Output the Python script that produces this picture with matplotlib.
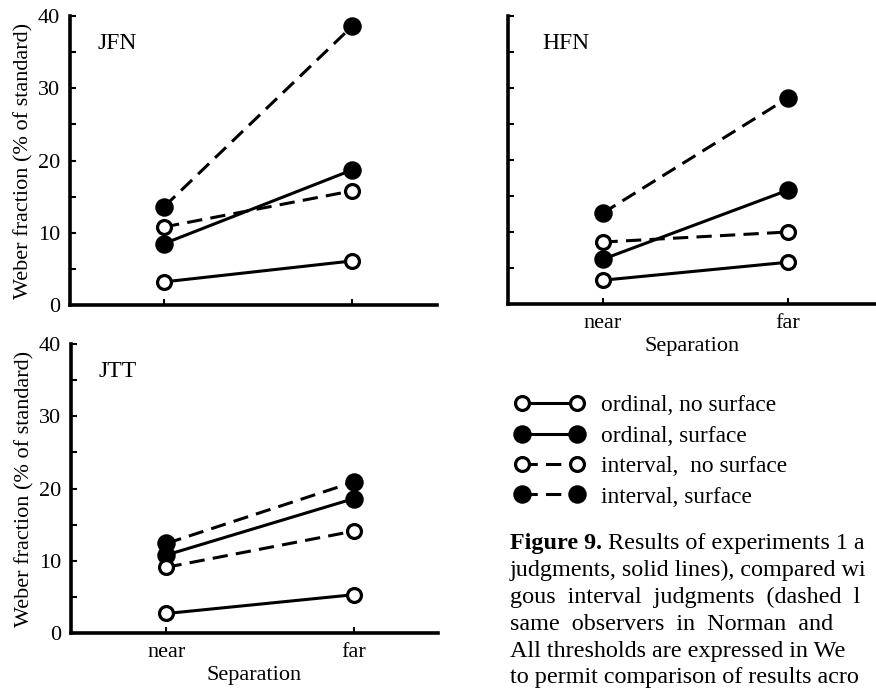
import matplotlib
matplotlib.use("Agg")
import matplotlib.pyplot as plt
from matplotlib.lines import Line2D

plt.rcParams['font.family'] = ['Liberation Serif', 'DejaVu Serif']

separation = ["near", "far"]
series_names = ["ordinal, no surface", "ordinal, surface",
                "interval,  no surface", "interval, surface"]

# values per observer, order matches series_names
jfn = [[3.2, 6.1], [8.5, 18.7], [10.8, 15.8], [13.6, 38.6]]
hfn = [[3.3, 5.8], [6.2, 15.8], [8.6, 10.0], [12.6, 28.6]]
jtt = [[2.7, 5.3], [10.8, 18.6], [9.1, 14.1], [12.4, 20.9]]

DASH = (0, (5, 2.7))
LW = 2.2
styles = [("-", "white"), ("-", "black"), (DASH, "white"), (DASH, "black")]
FS = 16


def panel(ax, data, name, xlim, ylabels=True, xlabels=True):
    x = list(range(len(separation)))
    for vals, (ls, fc) in zip(data, styles):
        ms = 11 if fc == "black" else 10
        ax.plot(x, vals, ls=ls, color="black", lw=LW, marker="o", ms=ms,
                mfc=fc, mec="black", mew=2.3, zorder=3, clip_on=False)
    ax.set_xlim(*xlim)
    ax.set_ylim(0, 40)
    for s in ["top", "right"]:
        ax.spines[s].set_visible(False)
    for s in ["left", "bottom"]:
        ax.spines[s].set_linewidth(2.6)
    ax.set_yticks([0, 10, 20, 30, 40])
    ax.set_yticks([5, 15, 25, 35], minor=True)
    ax.tick_params(axis="both", which="both", direction="in", length=4, width=1.5,
                   labelsize=FS, pad=7)
    ax.set_xticks(x)
    if xlabels:
        ax.set_xticklabels(separation)
        ax.set_xlabel("Separation", fontsize=FS, labelpad=3)
    else:
        ax.set_xticklabels([])
    if ylabels:
        ax.set_ylabel("Weber fraction (% of standard)", fontsize=FS, labelpad=3)
    else:
        ax.set_yticklabels([])
    ax.text(name[1], 0.905, name[0], transform=ax.transAxes, fontsize=17, va="center")


fig = plt.figure(figsize=(8.76, 6.88), dpi=100)
W, H = 876, 688


def add_axes(x0, x1, ytop, ybot):
    return fig.add_axes([x0 / W, 1 - ybot / H, (x1 - x0) / W, (ybot - ytop) / H])


ax1 = add_axes(70, 437, 16, 305)
ax2 = add_axes(508, 876, 16, 304)
ax3 = add_axes(71, 438, 344, 633)

panel(ax1, jfn, ("JFN", 0.076), (-0.5, 1.45), xlabels=False)
panel(ax2, hfn, ("HFN", 0.094), (-0.51, 1.476), ylabels=False)
panel(ax3, jtt, ("JTT", 0.076), (-0.51, 1.45))

# legend
handles = []
for ls, fc in styles:
    ms = 11 if fc == "black" else 10
    handles.append(Line2D([0, 1], [0, 0], ls=ls, color="black", lw=LW, marker="o",
                          ms=ms, mfc=fc, mec="black", mew=2.3))
fig.legend(handles, series_names, loc="upper left", bbox_to_anchor=(515 / W, 1 - 395 / H),
           frameon=False, fontsize=16.8, handlelength=2.95, labelspacing=0.39,
           handletextpad=0.75, borderaxespad=0, borderpad=0, numpoints=2)

caption_lines = [
    "judgments, solid lines), compared wi",
    "gous  interval  judgments  (dashed  l",
    "same  observers  in  Norman  and",
    "All thresholds are expressed in We",
    "to permit comparison of results acro",
]
CFS = 17.4
head = fig.text(510 / W, 1 - 543 / H, "Figure 9.", fontsize=CFS, fontweight="bold",
                va="center", ha="left")
fig.add_artist(plt.Annotation(" Results of experiments 1 a", xy=(1, 0), xycoords=head,
                              va="bottom", ha="left", fontsize=CFS))
for i, line in enumerate(caption_lines):
    fig.text(510 / W, 1 - (543 + 27 * (i + 1)) / H, line, fontsize=CFS, va="center",
             ha="left")

fig.savefig("out.png", dpi=100)
